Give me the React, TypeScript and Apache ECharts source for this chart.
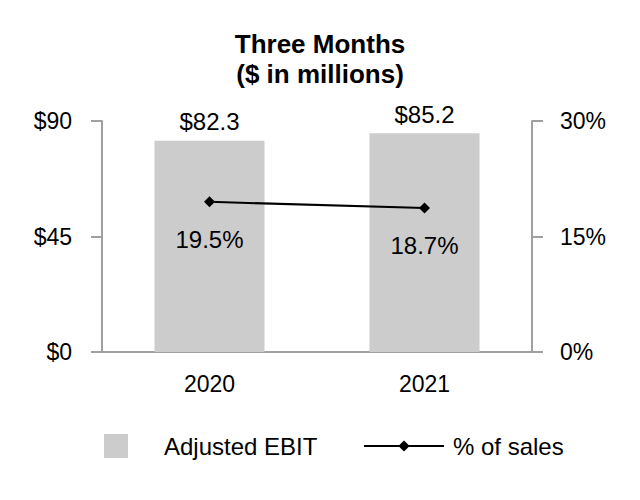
import React, { useEffect, useRef } from "react";
import * as echarts from "echarts";

const categories = ["2020", "2021"];
const ebitValues = [82.3, 85.2];
const pctValues = [19.5, 18.7];
const leftTicks = { min: 0, max: 90, interval: 45 };
const rightTicks = { min: 0, max: 30, interval: 15 };

const FONT = "'Liberation Sans', Arial, sans-serif";

export default function App() {
  const ref = useRef<HTMLDivElement>(null);
  useEffect(() => {
    document.body.style.margin = "0";
    const chart = echarts.init(ref.current!, null, { renderer: "svg" });
    const axisColor = "#a0a0a0";
    chart.setOption({
      animation: false,
      backgroundColor: "#ffffff",
      textStyle: { fontFamily: FONT, color: "#000" },
      title: {
        text: "Three Months\n($ in millions)",
        left: "center",
        top: 24,
        textStyle: { fontFamily: FONT, fontSize: 26, fontWeight: "bold", color: "#000", lineHeight: 30 },
      },
      grid: { left: 102, right: 108, top: 121, bottom: 148 },
      legend: [
        {
          data: ["Adjusted EBIT"],
          left: 104,
          top: 434,
          padding: 0,
          itemWidth: 24,
          itemHeight: 24,
          icon: "rect",
          textStyle: { fontFamily: FONT, fontSize: 24, color: "#000", padding: [0, 0, 0, 31] },
        },
        {
          data: ["% of sales"],
          left: 363,
          top: 434,
          padding: 0,
          itemWidth: 80,
          itemHeight: 14,
          textStyle: { fontFamily: FONT, fontSize: 24, color: "#000", padding: [0, 0, 0, 4] },
        },
      ],
      xAxis: {
        type: "category",
        data: categories,
        axisLine: { lineStyle: { color: axisColor, width: 2 } },
        axisTick: { show: false },
        axisLabel: { fontFamily: FONT, fontSize: 23, color: "#000", margin: 20 },
      },
      yAxis: [
        {
          type: "value",
          min: leftTicks.min,
          max: leftTicks.max,
          interval: leftTicks.interval,
          position: "left",
          axisLine: { show: true, lineStyle: { color: axisColor, width: 2 } },
          axisTick: { show: true, length: 11, lineStyle: { color: axisColor, width: 2 } },
          splitLine: { show: false },
          axisLabel: { fontFamily: FONT, fontSize: 23, color: "#000", margin: 30, formatter: (v: number) => "$" + v },
        },
        {
          type: "value",
          min: rightTicks.min,
          max: rightTicks.max,
          interval: rightTicks.interval,
          position: "right",
          axisLine: { show: true, lineStyle: { color: axisColor, width: 2 } },
          axisTick: { show: true, length: 11, lineStyle: { color: axisColor, width: 2 } },
          splitLine: { show: false },
          axisLabel: { fontFamily: FONT, fontSize: 23, color: "#000", margin: 28, formatter: (v: number) => v + "%" },
        },
      ],
      series: [
        {
          name: "Adjusted EBIT",
          type: "bar",
          data: ebitValues,
          barWidth: 110,
          itemStyle: { color: "#cccccc" },
          label: {
            show: true,
            position: "top",
            distance: 7,
            fontFamily: FONT,
            fontSize: 24,
            color: "#000",
            formatter: (p: any) => "$" + p.value.toFixed(1),
          },
        },
        {
          name: "% of sales",
          type: "line",
          yAxisIndex: 1,
          data: pctValues,
          symbol: "diamond",
          symbolSize: 11,
          lineStyle: { color: "#000", width: 2 },
          itemStyle: { color: "#000" },
          label: {
            show: true,
            position: "bottom",
            distance: 20,
            fontFamily: FONT,
            fontSize: 24,
            color: "#000",
            formatter: (p: any) => p.value.toFixed(1) + "%",
          },
        },
      ],
    });
    return () => chart.dispose();
  }, []);
  return <div ref={ref} style={{ width: 640, height: 500 }} />;
}
